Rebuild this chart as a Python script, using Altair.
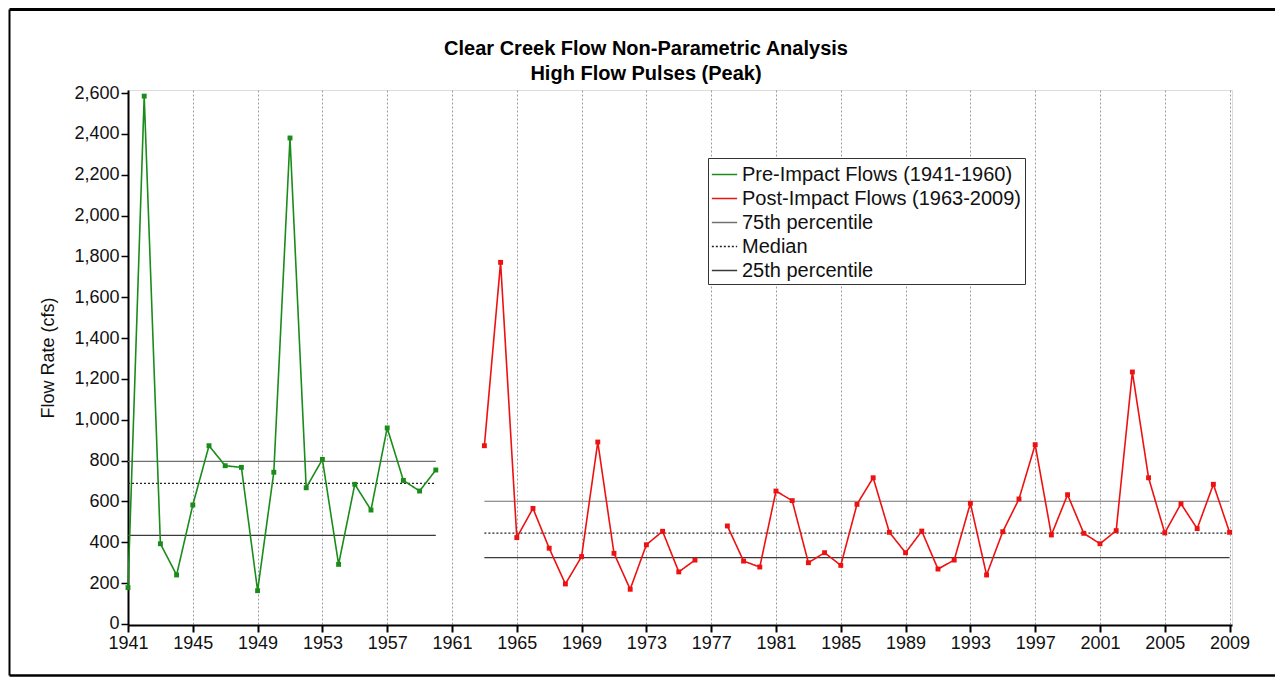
import altair as alt
import pandas as pd

# ---------------- data ----------------
pre_years = list(range(1941, 1961))
pre_flow = [178, 2585, 393, 240, 583, 873, 775, 767, 163, 743,
            2380, 667, 806, 292, 684, 558, 960, 703, 651, 754]

post_years = list(range(1963, 2010))
post_flow = [873, 1771, 423, 566, 371, 196, 330, 891, 346, 170,
             388, 454, 255, 313, None, 480, 308, 279, 651, 604,
             300, 349, 287, 586, 716, 449, 349, 455, 269, 313,
             591, 240, 452, 612, 878, 436, 633, 444, 393, 457,
             1234, 716, 446, 589, 467, 684, 449]

stat_names = ["75th percentile", "Median", "25th percentile"]
pre_stats = [796, 689, 434]
post_stats = [601, 445, 325]
pre_span = [1941, 1960]
post_span = [1963, 2009]

PRE = "Pre-Impact Flows (1941-1960)"
POST = "Post-Impact Flows (1963-2009)"
series_order = [PRE, POST] + stat_names
series_colors = ["#1a8c1a", "#ee1111", "#707070", "#222222", "#3a3a3a"]
series_dash = [[1, 0], [1, 0], [1, 0], [2, 2], [1, 0]]

x_ticks = list(range(1941, 2010))
y_ticks = list(range(0, 2601, 200))

# ---------------- tables ----------------
rows = []
for yr, v in zip(pre_years, pre_flow):
    rows.append({"year": yr, "flow": v, "series": PRE, "segment": "pre-0"})
seg = 0
for yr, v in zip(post_years, post_flow):
    if v is None:
        seg += 1
        continue
    rows.append({"year": yr, "flow": v, "series": POST, "segment": f"post-{seg}"})
flow_df = pd.DataFrame(rows)

stat_rows = []
for name, pv, qv in zip(stat_names, pre_stats, post_stats):
    stat_rows.append({"series": name, "x": pre_span[0], "x2": pre_span[1], "value": pv})
    stat_rows.append({"series": name, "x": post_span[0], "x2": post_span[1], "value": qv})
stat_df = pd.DataFrame(stat_rows)

W, H = 1104, 535
PAD = {"left": 120, "top": 82, "right": 43, "bottom": 52}
FONT = "Liberation Sans"

legend = alt.Legend(
    title=None, orient="none", legendX=580, legendY=68,
    strokeColor="#333333", fillColor="white", padding=3,
    labelFontSize=20, labelFont=FONT, labelColor="#111111", labelLimit=400,
    symbolType="stroke", symbolSize=640, symbolStrokeWidth=1.5,
    labelOffset=4, rowPadding=0,
)
color = alt.Color("series:N", scale=alt.Scale(domain=series_order, range=series_colors), legend=legend)
dash = alt.StrokeDash("series:N", scale=alt.Scale(domain=series_order, range=series_dash), legend=legend)

x_scale = alt.Scale(domain=[1941, 2009.15], nice=False, zero=False)
x_enc = alt.X(
    "year:Q",
    scale=x_scale,
    axis=alt.Axis(
        values=x_ticks, title=None,
        labelExpr="(datum.value - 1941) % 4 == 0 ? datum.value : ''",
        labelFlush=False, labelOverlap=False, labelBound=False,
        labelFontSize=18, labelFont=FONT, labelColor="#111111", labelPadding=2,
        tickColor="black",
        tickSize={"condition": {"test": "(datum.value - 1941) % 4 == 0", "value": 7}, "value": 4},
        tickWidth={"condition": {"test": "(datum.value - 1941) % 4 == 0", "value": 2}, "value": 1},
        domainColor="black", domainWidth=2,
        grid=True, gridColor="#9a9a9a", gridDash=[2, 2], gridWidth=1,
        gridOpacity={"condition": {"test": "(datum.value - 1941) % 4 == 0", "value": 1}, "value": 0},
    ),
)
y_scale = alt.Scale(domain=[-5, 2615], nice=False, zero=False)
y_axis = alt.Axis(
    values=y_ticks, format=",d", title="Flow Rate (cfs)",
    labelFontSize=18, labelFont=FONT, labelColor="#111111", labelPadding=2,
    tickSize=7, tickColor="black", tickWidth=1.5,
    domainColor="black", domainWidth=2, grid=False,
    titleFontSize=18, titleFont=FONT, titleFontWeight="normal", titleColor="#111111",
    titlePadding=16,
)

# decorative outer frame (top, left and bottom edges of the picture border)
one = pd.DataFrame({"k": [0]})
left_x = -PAD["left"] + 1.5
right_x = W + PAD["right"]
top_y = -PAD["top"] + 1.5
bottom_y = H + PAD["bottom"] - 1.5
frame_top = alt.Chart(one).mark_rule(color="black", strokeWidth=3).encode(
    x=alt.value(left_x), x2=alt.value(right_x), y=alt.value(top_y))
frame_left = alt.Chart(one).mark_rule(color="black", strokeWidth=2).encode(
    x=alt.value(left_x), y=alt.value(top_y), y2=alt.value(bottom_y))
frame_bottom = alt.Chart(one).mark_rule(color="black", strokeWidth=2.5).encode(
    x=alt.value(left_x), x2=alt.value(right_x), y=alt.value(bottom_y))

stats = alt.Chart(stat_df).mark_rule(strokeWidth=1.2).encode(
    x=alt.X("x:Q", scale=x_scale),
    x2="x2:Q",
    y=alt.Y("value:Q", scale=y_scale, axis=y_axis),
    color=color, strokeDash=dash,
)

lines = alt.Chart(flow_df).mark_line(strokeWidth=1.6).encode(
    x=x_enc,
    y=alt.Y("flow:Q", scale=y_scale, axis=y_axis),
    color=color, strokeDash=dash, detail="segment:N",
)

points = alt.Chart(flow_df).mark_square(size=24, opacity=1, filled=True).encode(
    x=x_enc,
    y=alt.Y("flow:Q", scale=y_scale, axis=y_axis),
    color=color,
)

chart = alt.layer(frame_top, frame_left, frame_bottom, stats, lines, points).properties(
    width=W, height=H,
    padding=PAD,
    autosize=alt.AutoSizeParams(type="none"),
    title=alt.TitleParams(
        text=["Clear Creek Flow Non-Parametric Analysis", "High Flow Pulses (Peak)"],
        fontSize=20, fontWeight="bold", font=FONT, color="black",
        anchor="middle", dx=-34, offset=-76, lineHeight=25,
    ),
).configure_view(stroke="#666666", strokeWidth=1).configure(background="white")

chart.save("out.html", embed_options={"renderer": "svg", "actions": False})
